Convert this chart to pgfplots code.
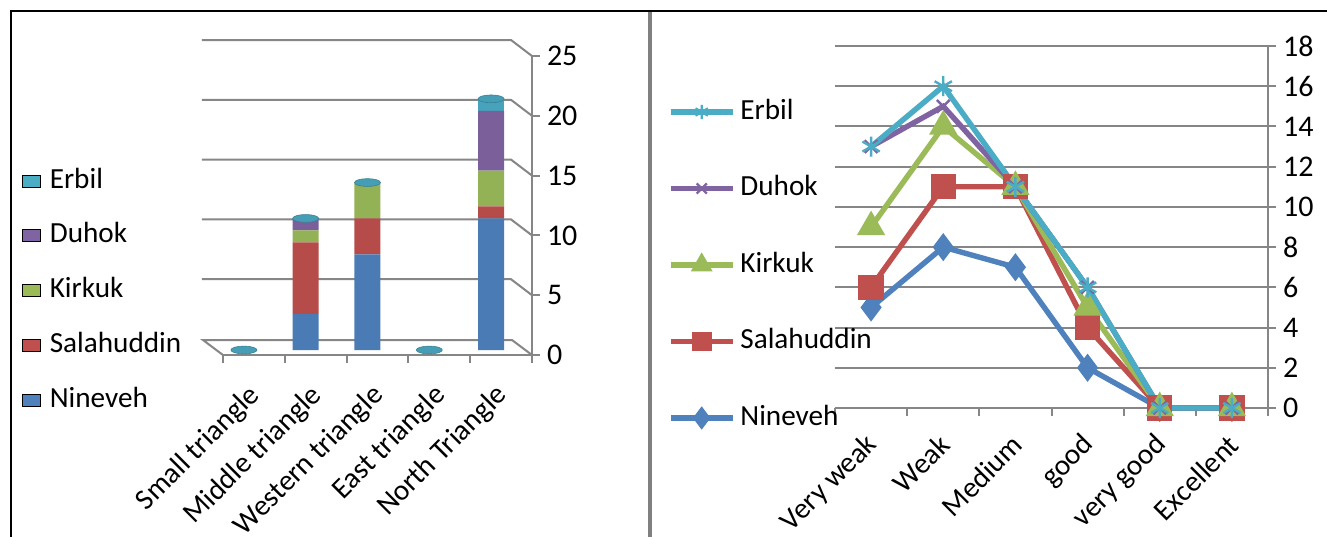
\documentclass[border=0pt]{standalone}
\usepackage{pgfplots}
\pgfplotsset{compat=1.18}
\usepackage{fontspec}
\setmainfont{Carlito}
\definecolor{cNin}{HTML}{4F81BD}
\definecolor{cSal}{HTML}{C0504D}
\definecolor{cKir}{HTML}{9BBB59}
\definecolor{cDuh}{HTML}{8064A2}
\definecolor{cErb}{HTML}{4BACC6}
\definecolor{axgray}{RGB}{134,134,134}
\newcommand\lfont{\fontsize{14.6bp}{17bp}\selectfont}
\newcommand\tfont{\fontsize{15bp}{17bp}\selectfont}
\pgfplotsset{
  cyl/.style={draw=none, forget plot, fill=#1!95!black},
}
\begin{document}
\begin{tikzpicture}
\useasboundingbox (0,0) rectangle (663.5bp,-268.5bp);
\fill[white] (0,0) rectangle (663.5bp,-268.5bp);
\draw[black, line width=1.3bp] (5.5bp,-268.5bp) -- (5.5bp,-5.5bp) -- (663.5bp,-5.5bp);
\draw[gray, line width=1.8bp] (325bp,-6bp) -- (325bp,-268.5bp);

% ---------- left chart: frame, ticks, labels ----------
\begin{axis}[
  at={(111.5bp,-177.5bp)}, anchor=south west,
  width=154.5bp, height=149.5bp, scale only axis,
  xmin=-0.5, xmax=4.5, ymin=0, ymax=25, clip=false,
  axis x line*=bottom, axis y line*=right,
  axis line style={axgray, line width=1bp, -},
  xtick={0,...,4},
  xticklabels={Small triangle,Middle triangle,Western triangle,East triangle,North Triangle},
  ytick={0,5,...,25},
  tick align=outside, major tick length=4bp, minor tick length=4bp,
  tick style={axgray, line width=1bp},
  major x tick style={draw=none},
  minor xtick={-0.5,0.5,...,4.5},
  minor x tick style={axgray, line width=1bp},
  /pgf/number format/assume math mode=true,
  tick label style={font=\tfont},
  xticklabel style={font=\lfont, inner sep=0pt, xshift=1bp, yshift=-14bp, rotate=45, anchor=east},
]
\pgfplotsinvokeforeach{5,10,15,20,25}{
  \draw[axgray, line width=1bp] ([xshift=-10.5bp,yshift=8bp]axis cs:-0.5,#1) -- ([xshift=-10.5bp,yshift=8bp]axis cs:4.5,#1) -- (axis cs:4.5,#1);
}
\draw[axgray, line width=1bp] (axis cs:-0.5,0) -- ([xshift=-10bp,yshift=7.5bp]axis cs:-0.5,0) -- ([xshift=-10bp,yshift=7.5bp]axis cs:4.5,0) -- (axis cs:4.5,0);
\end{axis}

% ---------- left chart: bars ----------
\begin{axis}[
  at={(106.5bp,-175bp)}, anchor=south west,
  width=154.5bp, height=149.5bp, scale only axis,
  xmin=-0.5, xmax=4.5, ymin=0, ymax=25, clip=false, hide axis,
  ybar stacked, bar width=13bp,
  reverse legend,
  legend cell align=left,
  legend image code/.code={\fill[#1] (0bp,-3bp) rectangle (9bp,3bp);},
  legend style={at={(-0.6181,0.6087)}, anchor=north west, draw=none, fill=none,
    inner sep=0pt, outer sep=0pt, row sep=14.4bp, column sep=4.5bp, font=\lfont,
    nodes={inner sep=0pt, text height=10bp, text depth=3bp}},
]
\addplot[cyl=cNin] coordinates {(0,0) (1,3) (2,8) (3,0) (4,11)};
\addplot[cyl=cSal] coordinates {(0,0) (1,6) (2,3) (3,0) (4,1)};
\addplot[cyl=cKir] coordinates {(0,0) (1,1) (2,3) (3,0) (4,3)};
\addplot[cyl=cDuh] coordinates {(0,0) (1,1) (2,0) (3,0) (4,5)};
\addplot[cyl=cErb] coordinates {(0,0) (1,0) (2,0) (3,0) (4,1)};
\addlegendimage{fill=cNin}
\addlegendentry{Nineveh}
\addlegendimage{fill=cSal}
\addlegendentry{Salahuddin}
\addlegendimage{fill=cKir}
\addlegendentry{Kirkuk}
\addlegendimage{fill=cDuh}
\addlegendentry{Duhok}
\addlegendimage{fill=cErb}
\addlegendentry{Erbil}
\end{axis}

% ---------- left chart: cylinder caps ----------
\begin{axis}[
  at={(106.5bp,-175bp)}, anchor=south west,
  width=154.5bp, height=149.5bp, scale only axis,
  xmin=-0.5, xmax=4.5, ymin=0, ymax=25, clip=false, hide axis,
]
\addplot[only marks, mark=*, mark size=6.5bp,
  mark options={yscale=0.3, fill=cErb!92!black, draw=cErb!75!black, line width=0.3bp}]
  coordinates {(0,0) (1,11) (2,14) (3,0) (4,21)};
\end{axis}

% ---------- right chart ----------
\begin{axis}[
  at={(417.5bp,-204bp)}, anchor=south west,
  width=216.5bp, height=181bp, scale only axis,
  xmin=-0.5, xmax=5.5, ymin=0, ymax=18, clip=false,
  axis x line*=bottom, axis y line*=right,
  axis line style={axgray, line width=1bp, -},
  ymajorgrids, major grid style={axgray, line width=1bp},
  ytick={0,2,...,18},
  xtick={0,...,5},
  xticklabels={Very weak,Weak,Medium,good,very good,Excellent},
  tick align=outside, major tick length=4bp, minor tick length=4bp,
  tick style={axgray, line width=1bp},
  major x tick style={draw=none},
  minor xtick={-0.5,0.5,...,5.5},
  minor x tick style={axgray, line width=1bp},
  /pgf/number format/assume math mode=true,
  tick label style={font=\tfont},
  xticklabel style={font=\lfont, inner sep=0pt, xshift=1bp, yshift=-12bp, rotate=45, anchor=east},
  reverse legend,
  legend cell align=left,
  legend image code/.code={\draw[mark repeat=2,mark phase=2,#1,mark size=3.6bp] plot coordinates {(0bp,0bp) (15.5bp,0bp) (31bp,0bp)};},
  legend style={at={(-0.3857,0.8536)}, anchor=north west, draw=none, fill=none,
    inner sep=0pt, outer sep=0pt, row sep=25.25bp, column sep=2.5bp, font=\lfont,
    nodes={inner sep=0pt, text height=10bp, text depth=3bp}},
  every axis plot/.append style={line width=2.7bp},
]
\addplot[cNin, mark=diamond*, mark size=4.8bp, mark options={solid}] coordinates {(0,5) (1,8) (2,7) (3,2) (4,0) (5,0)};
\addlegendentry{Nineveh}
\addplot[cSal, mark=square*, mark size=5bp, mark options={solid}] coordinates {(0,6) (1,11) (2,11) (3,4) (4,0) (5,0)};
\addlegendentry{Salahuddin}
\addplot[cKir, mark=triangle*, mark size=5.5bp, mark options={solid}] coordinates {(0,9) (1,14) (2,11) (3,5) (4,0) (5,0)};
\addlegendentry{Kirkuk}
\addplot[cDuh, mark=x, mark size=4.5bp, mark options={solid, line width=1.2bp}] coordinates {(0,13) (1,15) (2,11) (3,6) (4,0) (5,0)};
\addlegendentry{Duhok}
\addplot[cErb, mark=asterisk, mark size=5bp, mark options={solid, line width=1.2bp}] coordinates {(0,13) (1,16) (2,11) (3,6) (4,0) (5,0)};
\addlegendentry{Erbil}
\end{axis}
\end{tikzpicture}
\end{document}
